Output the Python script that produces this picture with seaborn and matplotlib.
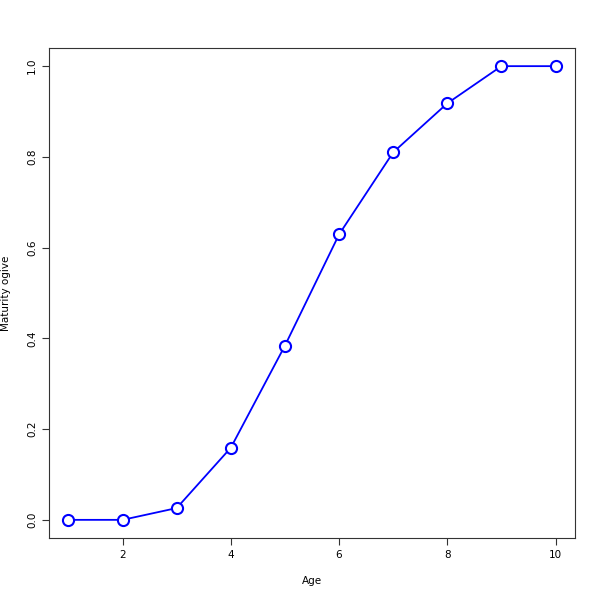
import pandas as pd
import seaborn as sns
import matplotlib.pyplot as plt

ages = [1, 2, 3, 4, 5, 6, 7, 8, 9, 10]
maturity = [0.0, 0.0, 0.026, 0.159, 0.384, 0.629, 0.810, 0.918, 1.0, 1.0]

df = pd.DataFrame({'Age': ages, 'Maturity ogive': maturity})

sns.set_style('white')
plt.rcParams['font.family'] = ['DejaVu Sans']
plt.rcParams['text.color'] = 'black'
plt.rcParams['axes.labelcolor'] = 'black'
plt.rcParams['xtick.color'] = 'black'
plt.rcParams['ytick.color'] = 'black'

fig = plt.figure(figsize=(6, 6), dpi=100)
ax = fig.add_axes([49 / 600, 1 - 538 / 600, 526 / 600, 490 / 600])
sns.lineplot(data=df, x='Age', y='Maturity ogive', ax=ax, color='blue', linewidth=1.3,
             marker='o', markersize=8, markerfacecolor='white', markeredgecolor='blue',
             markeredgewidth=1.5)

ax.set_xlim(0.64, 10.36)
ax.set_ylim(-0.04, 1.04)
ax.set_xticks([2, 4, 6, 8, 10])
ax.set_yticks([0.0, 0.2, 0.4, 0.6, 0.8, 1.0])
ax.set_yticklabels(['0.0', '0.2', '0.4', '0.6', '0.8', '1.0'], rotation=90, va='center')
ax.tick_params(axis='both', labelsize=7.5, length=5, width=0.8, color='#333333',
               labelcolor='black', left=True, bottom=True, direction='out')
ax.set_xlabel('Age', fontsize=7.5, labelpad=12)
ax.set_ylabel('Maturity ogive', fontsize=7.5, labelpad=12)
for s in ax.spines.values():
    s.set_color('#333333')
    s.set_linewidth(0.8)

fig.savefig('out.png', dpi=100)
